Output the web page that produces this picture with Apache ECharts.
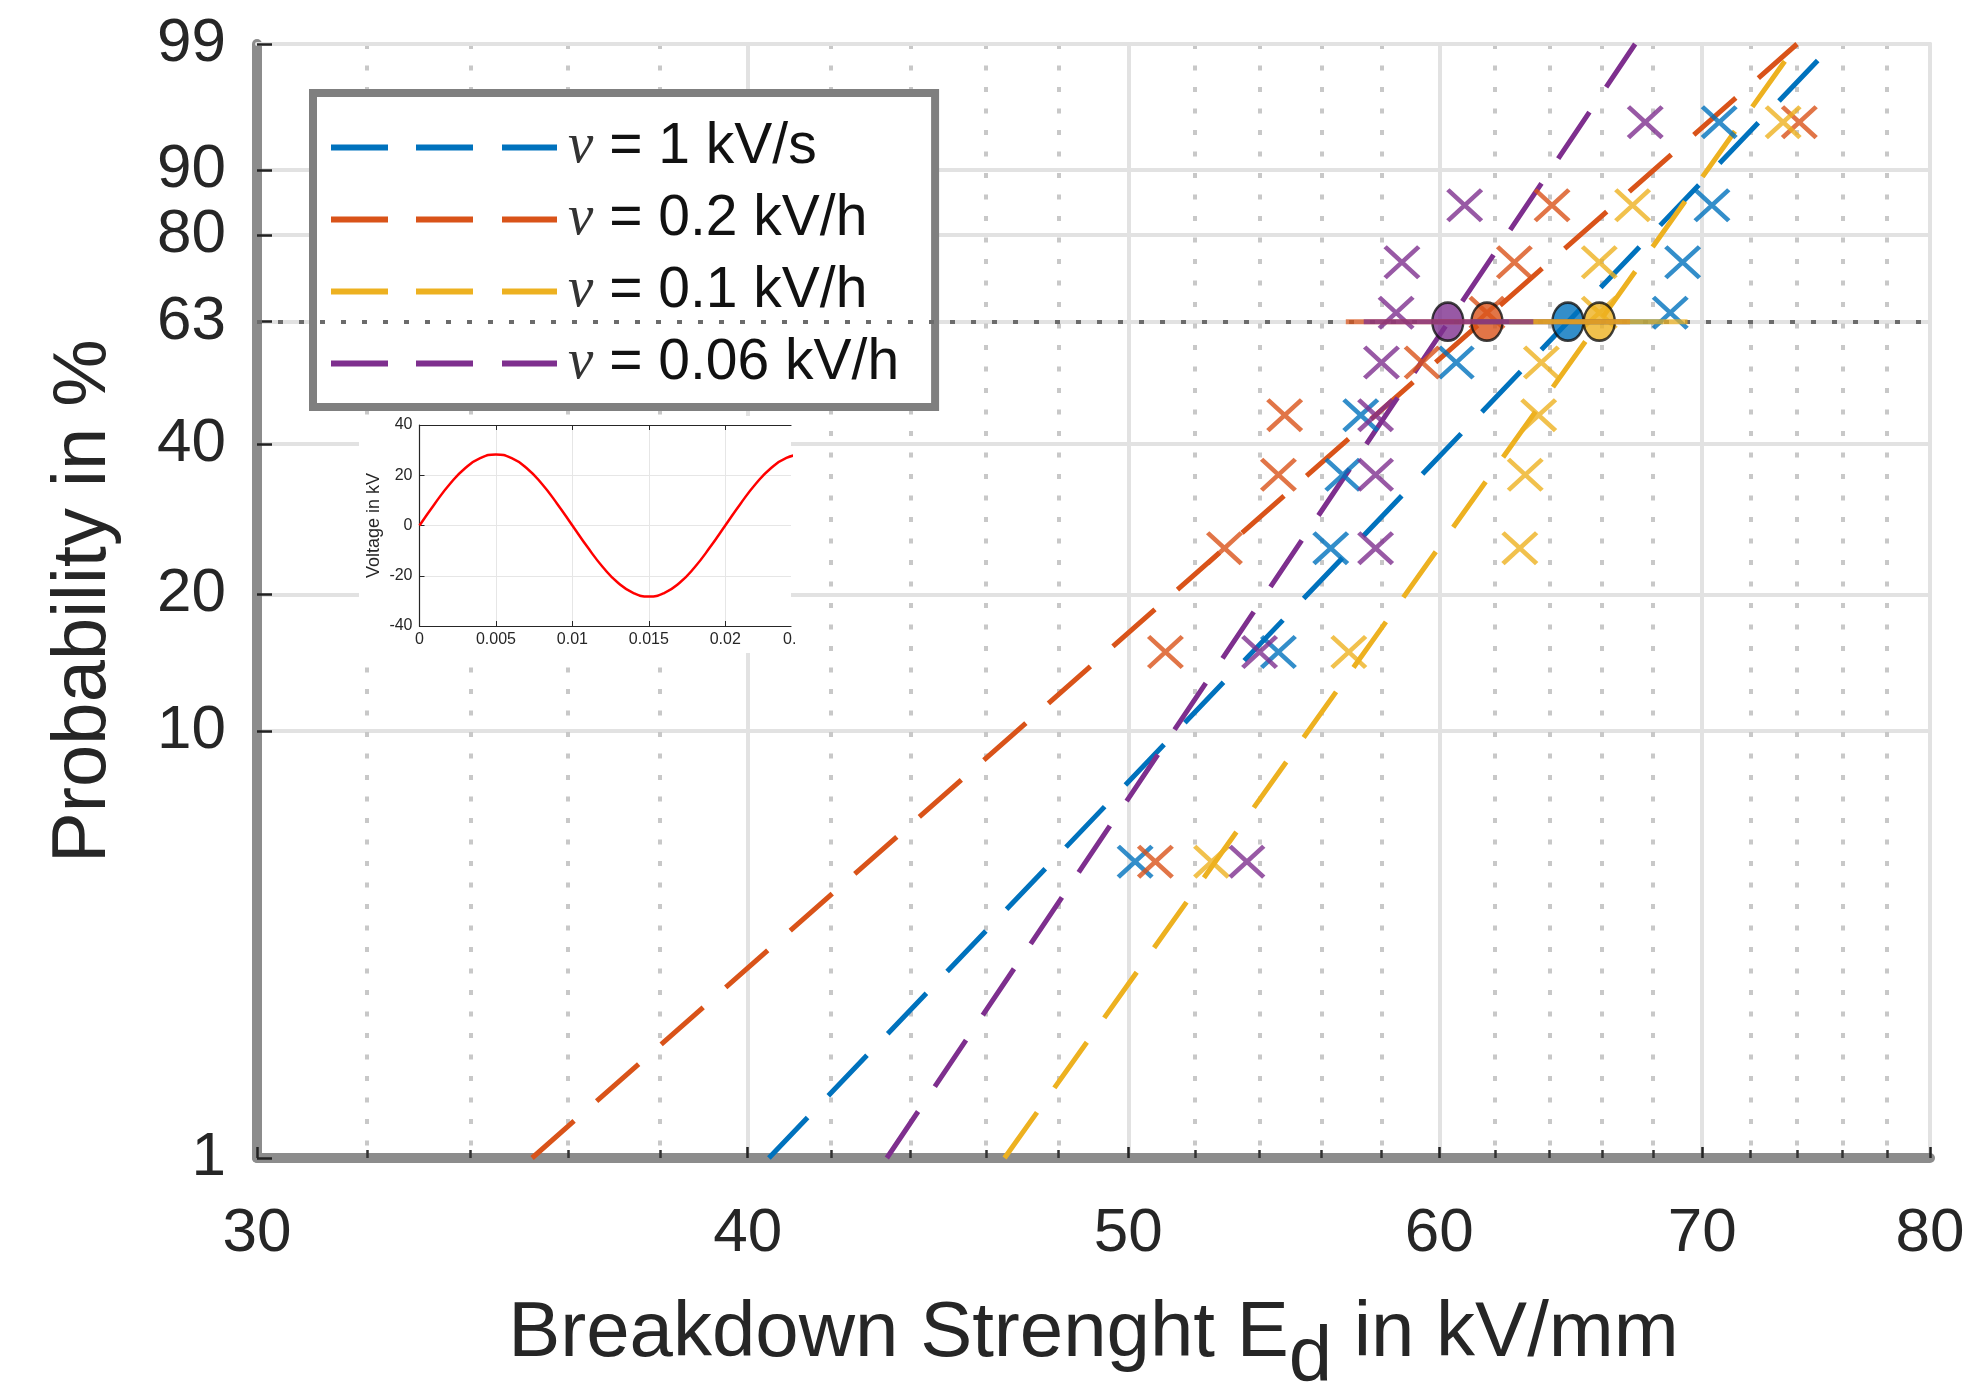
<!DOCTYPE html>
<html>
<head>
<meta charset="utf-8">
<script src="https://cdn.jsdelivr.net/npm/echarts@6/dist/echarts.min.js"></script>
<style>
html,body{margin:0;padding:0;background:#fff;}
#chart{width:1988px;height:1392px;}
</style>
</head>
<body>
<div id="chart"></div>
<script>
// ---------------- data ----------------
const seriesNames  = ['1 kV/s', '0.2 kV/h', '0.1 kV/h', '0.06 kV/h'];
const seriesColors = ['#0072BD', '#D95319', '#EDB120', '#7E2F8E'];

// plotting positions of the measured breakdowns (%)
const probs = [5, 15, 25, 35, 45, 55, 65, 75, 85, 95];
// measured breakdown strengths (kV/mm)
const bd_1kVs   = [50.2, 54.6, 56.3, 56.7, 57.3, 60.6, 68.7, 69.2, 70.4, 70.7];
const bd_02kVh  = [50.8, 51.1, 52.9, 54.6, 54.8, 59.4, 61.7, 62.7, 64.1, 74.1];
const bd_01kVh  = [52.5, 56.9, 62.9, 63.1, 63.6, 63.7, 65.9, 65.9, 67.2, 73.4];
const bd_006kVh = [53.6, 54.0, 57.8, 57.8, 57.8, 58.0, 58.5, 58.7, 60.9, 67.7];

// Weibull fit lines: strength at 1 % and at 99 %
const fitProbs    = [1, 99];
const fit_1kVs    = [40.5, 75.6];
const fit_02kVh   = [35.25, 74.0];
const fit_01kVh   = [46.5, 74.0];
const fit_006kVh  = [43.4, 67.3];

// scale parameter (63.2 %) and its confidence bounds
const scaleProb  = 63.2;
const scaleE     = [64.7, 61.7, 65.9, 60.3];
const scaleLow   = [61.2, 56.8, 62.5, 57.4];
const scaleHigh  = [68.4, 67.1, 69.4, 63.4];

// axes
const xTickValues  = [30, 40, 50, 60, 70, 80];
const xMinorValues = [32, 34, 36, 38, 42, 44, 46, 48, 52, 54, 56, 58, 62, 64, 66, 68, 72, 74, 76, 78];
const yTickProbs   = [1, 10, 20, 40, 63.2, 80, 90, 99];
const yTickLabels  = ['1', '10', '20', '40', '63', '80', '90', '99'];

// inset: applied AC voltage
const insetTime    = [0, 0.001, 0.002, 0.003, 0.004, 0.005, 0.006, 0.007, 0.008, 0.009, 0.010, 0.011, 0.012,
                      0.013, 0.014, 0.015, 0.016, 0.017, 0.018, 0.019, 0.020, 0.021, 0.022, 0.023, 0.024, 0.025];
const insetVoltage = [0, 8.7, 16.6, 22.9, 26.9, 28.3, 26.9, 22.9, 16.6, 8.7, 0, -8.7, -16.6,
                      -22.9, -26.9, -28.3, -26.9, -22.9, -16.6, -8.7, 0, 8.7, 16.6, 22.9, 26.9, 28.3];
const insetXTicks  = [0, 0.005, 0.01, 0.015, 0.02];
const insetXLabels = ['0', '0.005', '0.01', '0.015', '0.02'];
const insetYTicks  = [-40, -20, 0, 20, 40];

// ---------------- helpers ----------------
// Weibull probability-paper transform for the y axis
const wb = p => Math.log(-Math.log(1 - p / 100));
const FONT = 'Liberation Sans, Arial, sans-serif';
const TXT = '#262626';
const GRIDC = '#e2e2e2';
const xPath = 'path://M0,9L9,0L100,91L91,100Z M91,0L100,9L9,100L0,91Z';
const dashIcon = 'path://M0,0H57V6H0Z M85,0H142V6H85Z M171,0H226V6H171Z';

const allBd  = [bd_1kVs, bd_02kVh, bd_01kVh, bd_006kVh];
const allFit = [fit_1kVs, fit_02kVh, fit_01kVh, fit_006kVh];

const series = [];
// fit lines (legend entries)
allFit.forEach((f, i) => {
  const s = {
    name: seriesNames[i], type: 'line', xAxisIndex: 0, yAxisIndex: 0,
    data: f.map((x, k) => [x, wb(fitProbs[k])]),
    symbol: 'none', silent: true, z: 2,
    itemStyle: {color: seriesColors[i]},
    lineStyle: {color: seriesColors[i], width: 5, type: [56, 30]}
  };
  if (i === 0) {
    s.markLine = {
      silent: true, symbol: ['none', 'none'], label: {show: false},
      lineStyle: {type: [5, 16], color: '#6b6b6b', width: 4},
      data: [{yAxis: wb(scaleProb)}]
    };
  }
  series.push(s);
});
// measured points
allBd.forEach((d, i) => {
  series.push({
    name: seriesNames[i] + ' data', type: 'scatter', xAxisIndex: 0, yAxisIndex: 0,
    data: d.map((x, k) => [x, wb(probs[k])]),
    symbol: xPath, symbolSize: [37, 34], silent: true, z: 3,
    itemStyle: {color: seriesColors[i]}
  });
});
// scale parameter markers
scaleE.forEach((x, i) => {
  series.push({
    name: seriesNames[i] + ' scale', type: 'scatter', xAxisIndex: 0, yAxisIndex: 0,
    data: [[x, wb(scaleProb)]],
    symbol: 'circle', symbolSize: [31, 38], silent: true, z: 4,
    itemStyle: {color: seriesColors[i], borderColor: '#111', borderWidth: 2.5}
  });
});
// confidence bars
scaleE.forEach((x, i) => {
  series.push({
    name: seriesNames[i] + ' ci', type: 'line', xAxisIndex: 0, yAxisIndex: 0,
    data: [[scaleLow[i], wb(scaleProb)], [scaleHigh[i], wb(scaleProb)]],
    symbol: 'none', silent: true, z: 5,
    lineStyle: {color: seriesColors[i], width: 5, opacity: 0.72}
  });
});
// inset sine
series.push({
  name: 'voltage', type: 'line', xAxisIndex: 3, yAxisIndex: 2,
  data: insetTime.map((t, k) => [t, insetVoltage[k]]),
  smooth: true, symbol: 'none', silent: true, z: 6, clip: true,
  lineStyle: {color: '#ff0000', width: 2.5}
});

const option = {
  animation: false,
  backgroundColor: '#ffffff',
  grid: [
    {left: 257, top: 44, right: 58, bottom: 234, containLabel: false, outerBoundsMode: 'none'},
    {left: 419.5, top: 425, width: 371.5, height: 201, containLabel: false, outerBoundsMode: 'none'}
  ],
  legend: {
    data: seriesNames,
    orient: 'vertical', left: 313, top: 93,
    icon: dashIcon,
    itemWidth: 226, itemHeight: 6, itemGap: 15,
    padding: [26, 36, 15, 18],
    borderColor: '#7f7f7f', borderWidth: 8, backgroundColor: '#ffffff',
    selectedMode: false,
    itemStyle: {borderWidth: 0},
    formatter: n => '{nu|\u03BD} = ' + n,
    textStyle: {
      fontSize: 57, color: '#111', fontFamily: FONT,
      rich: {nu: {fontSize: 57, fontFamily: 'Liberation Serif, serif', fontStyle: 'italic', color: '#333', padding: [0, 0, 0, 6]}}
    }
  },
  xAxis: [
    { // main, major
      type: 'log', logBase: 10, gridIndex: 0, min: 30, max: 80, position: 'bottom', z: 1,
      name: 'Breakdown Strenght E{sub|d} in kV/mm', nameLocation: 'middle', nameGap: 112,
      nameTextStyle: {fontSize: 78, color: TXT, fontFamily: FONT,
        rich: {sub: {fontSize: 78, color: TXT, fontFamily: FONT, padding: [50, 0, 0, 0]}}},
      axisLine: {show: true, onZero: false, lineStyle: {color: '#8c8c8c', width: 10}},
      axisTick: {show: true, inside: true, length: 11, customValues: xTickValues, lineStyle: {color: '#222', width: 2.5}},
      axisLabel: {show: true, customValues: xTickValues, fontSize: 62, color: TXT, fontFamily: FONT, margin: 45},
      splitLine: {show: true, lineStyle: {color: GRIDC, width: 4}},
      minorTick: {show: false}, minorSplitLine: {show: false}
    },
    { // main, minor ticks + dotted grid
      type: 'log', logBase: 10, gridIndex: 0, min: 30, max: 80, position: 'bottom', z: 1,
      axisLine: {show: false, onZero: false},
      axisTick: {show: true, inside: true, length: 8, customValues: xMinorValues, lineStyle: {color: '#333', width: 2.5}},
      axisLabel: {show: false},
      splitLine: {show: true, lineStyle: {color: '#c8c8c8', width: 4, type: [5, 16.5]}}
    },
    { // main, top border
      type: 'log', logBase: 10, gridIndex: 0, min: 30, max: 80, position: 'top', z: 1,
      axisLine: {show: true, onZero: false, lineStyle: {color: GRIDC, width: 4}},
      axisTick: {show: false}, axisLabel: {show: false}, splitLine: {show: false}
    },
    { // inset, bottom
      type: 'value', gridIndex: 1, min: 0, max: 0.0243, position: 'bottom', z: 3,
      axisLine: {show: true, onZero: false, lineStyle: {color: '#262626', width: 1.2}},
      axisTick: {show: true, inside: true, length: 5, customValues: insetXTicks, lineStyle: {color: '#262626'}},
      axisLabel: {show: true, customValues: insetXTicks, fontSize: 16, color: TXT, fontFamily: FONT, margin: 6,
        formatter: v => { const i = insetXTicks.findIndex(t => Math.abs(t - v) < 1e-9); return i >= 0 ? insetXLabels[i] : ''; }},
      splitLine: {show: true, lineStyle: {color: '#e6e6e6', width: 1}}
    },
    { // inset, top frame
      type: 'value', gridIndex: 1, min: 0, max: 0.0243, position: 'top', z: 3,
      axisLine: {show: true, onZero: false, lineStyle: {color: '#262626', width: 1.2}},
      axisTick: {show: true, inside: true, length: 5, customValues: insetXTicks, lineStyle: {color: '#262626'}},
      axisLabel: {show: false}, splitLine: {show: false}
    }
  ],
  yAxis: [
    { // main left
      type: 'value', gridIndex: 0, min: wb(1), max: wb(99), position: 'left', z: 1,
      name: 'Probability in %', nameLocation: 'middle', nameGap: 135,
      nameTextStyle: {fontSize: 76, color: TXT, fontFamily: FONT},
      axisLine: {show: true, onZero: false, lineStyle: {color: '#8c8c8c', width: 10}},
      axisTick: {show: true, inside: true, length: 15, customValues: yTickProbs.map(wb), lineStyle: {color: '#222', width: 2.5}},
      axisLabel: {show: true, customValues: yTickProbs.map(wb), fontSize: 62, color: TXT, fontFamily: FONT, margin: 31,
        formatter: v => { const i = yTickProbs.findIndex(p => Math.abs(wb(p) - v) < 1e-6); return i >= 0 ? yTickLabels[i] : ''; }},
      splitLine: {show: true, lineStyle: {color: GRIDC, width: 4}}
    },
    { // main right border
      type: 'value', gridIndex: 0, min: wb(1), max: wb(99), position: 'right', z: 1,
      axisLine: {show: true, onZero: false, lineStyle: {color: GRIDC, width: 4}},
      axisTick: {show: false}, axisLabel: {show: false}, splitLine: {show: false}
    },
    { // inset
      type: 'value', gridIndex: 1, min: -40, max: 40, position: 'left', z: 3,
      name: 'Voltage in kV', nameLocation: 'middle', nameGap: 36,
      nameTextStyle: {fontSize: 18, color: TXT, fontFamily: FONT},
      axisLine: {show: true, onZero: false, lineStyle: {color: '#262626', width: 1.2}},
      axisTick: {show: true, inside: true, length: 5, customValues: insetYTicks, lineStyle: {color: '#262626'}},
      axisLabel: {show: true, customValues: insetYTicks, fontSize: 16, color: TXT, fontFamily: FONT, margin: 7},
      splitLine: {show: true, lineStyle: {color: '#e6e6e6', width: 1}}
    }
  ],
  graphic: [
    {type: 'rect', z: 2, silent: true, shape: {x: 359, y: 416, width: 432, height: 237}, style: {fill: '#ffffff'}},
    {type: 'text', z: 3, silent: true, style: {x: 783, y: 632, text: '0.', fill: TXT, font: '16px ' + FONT, verticalAlign: 'top', align: 'left'}}
  ],
  series: series
};

const chart = echarts.init(document.getElementById('chart'), null, {renderer: 'canvas'});
chart.setOption(option);
</script>
</body>
</html>
